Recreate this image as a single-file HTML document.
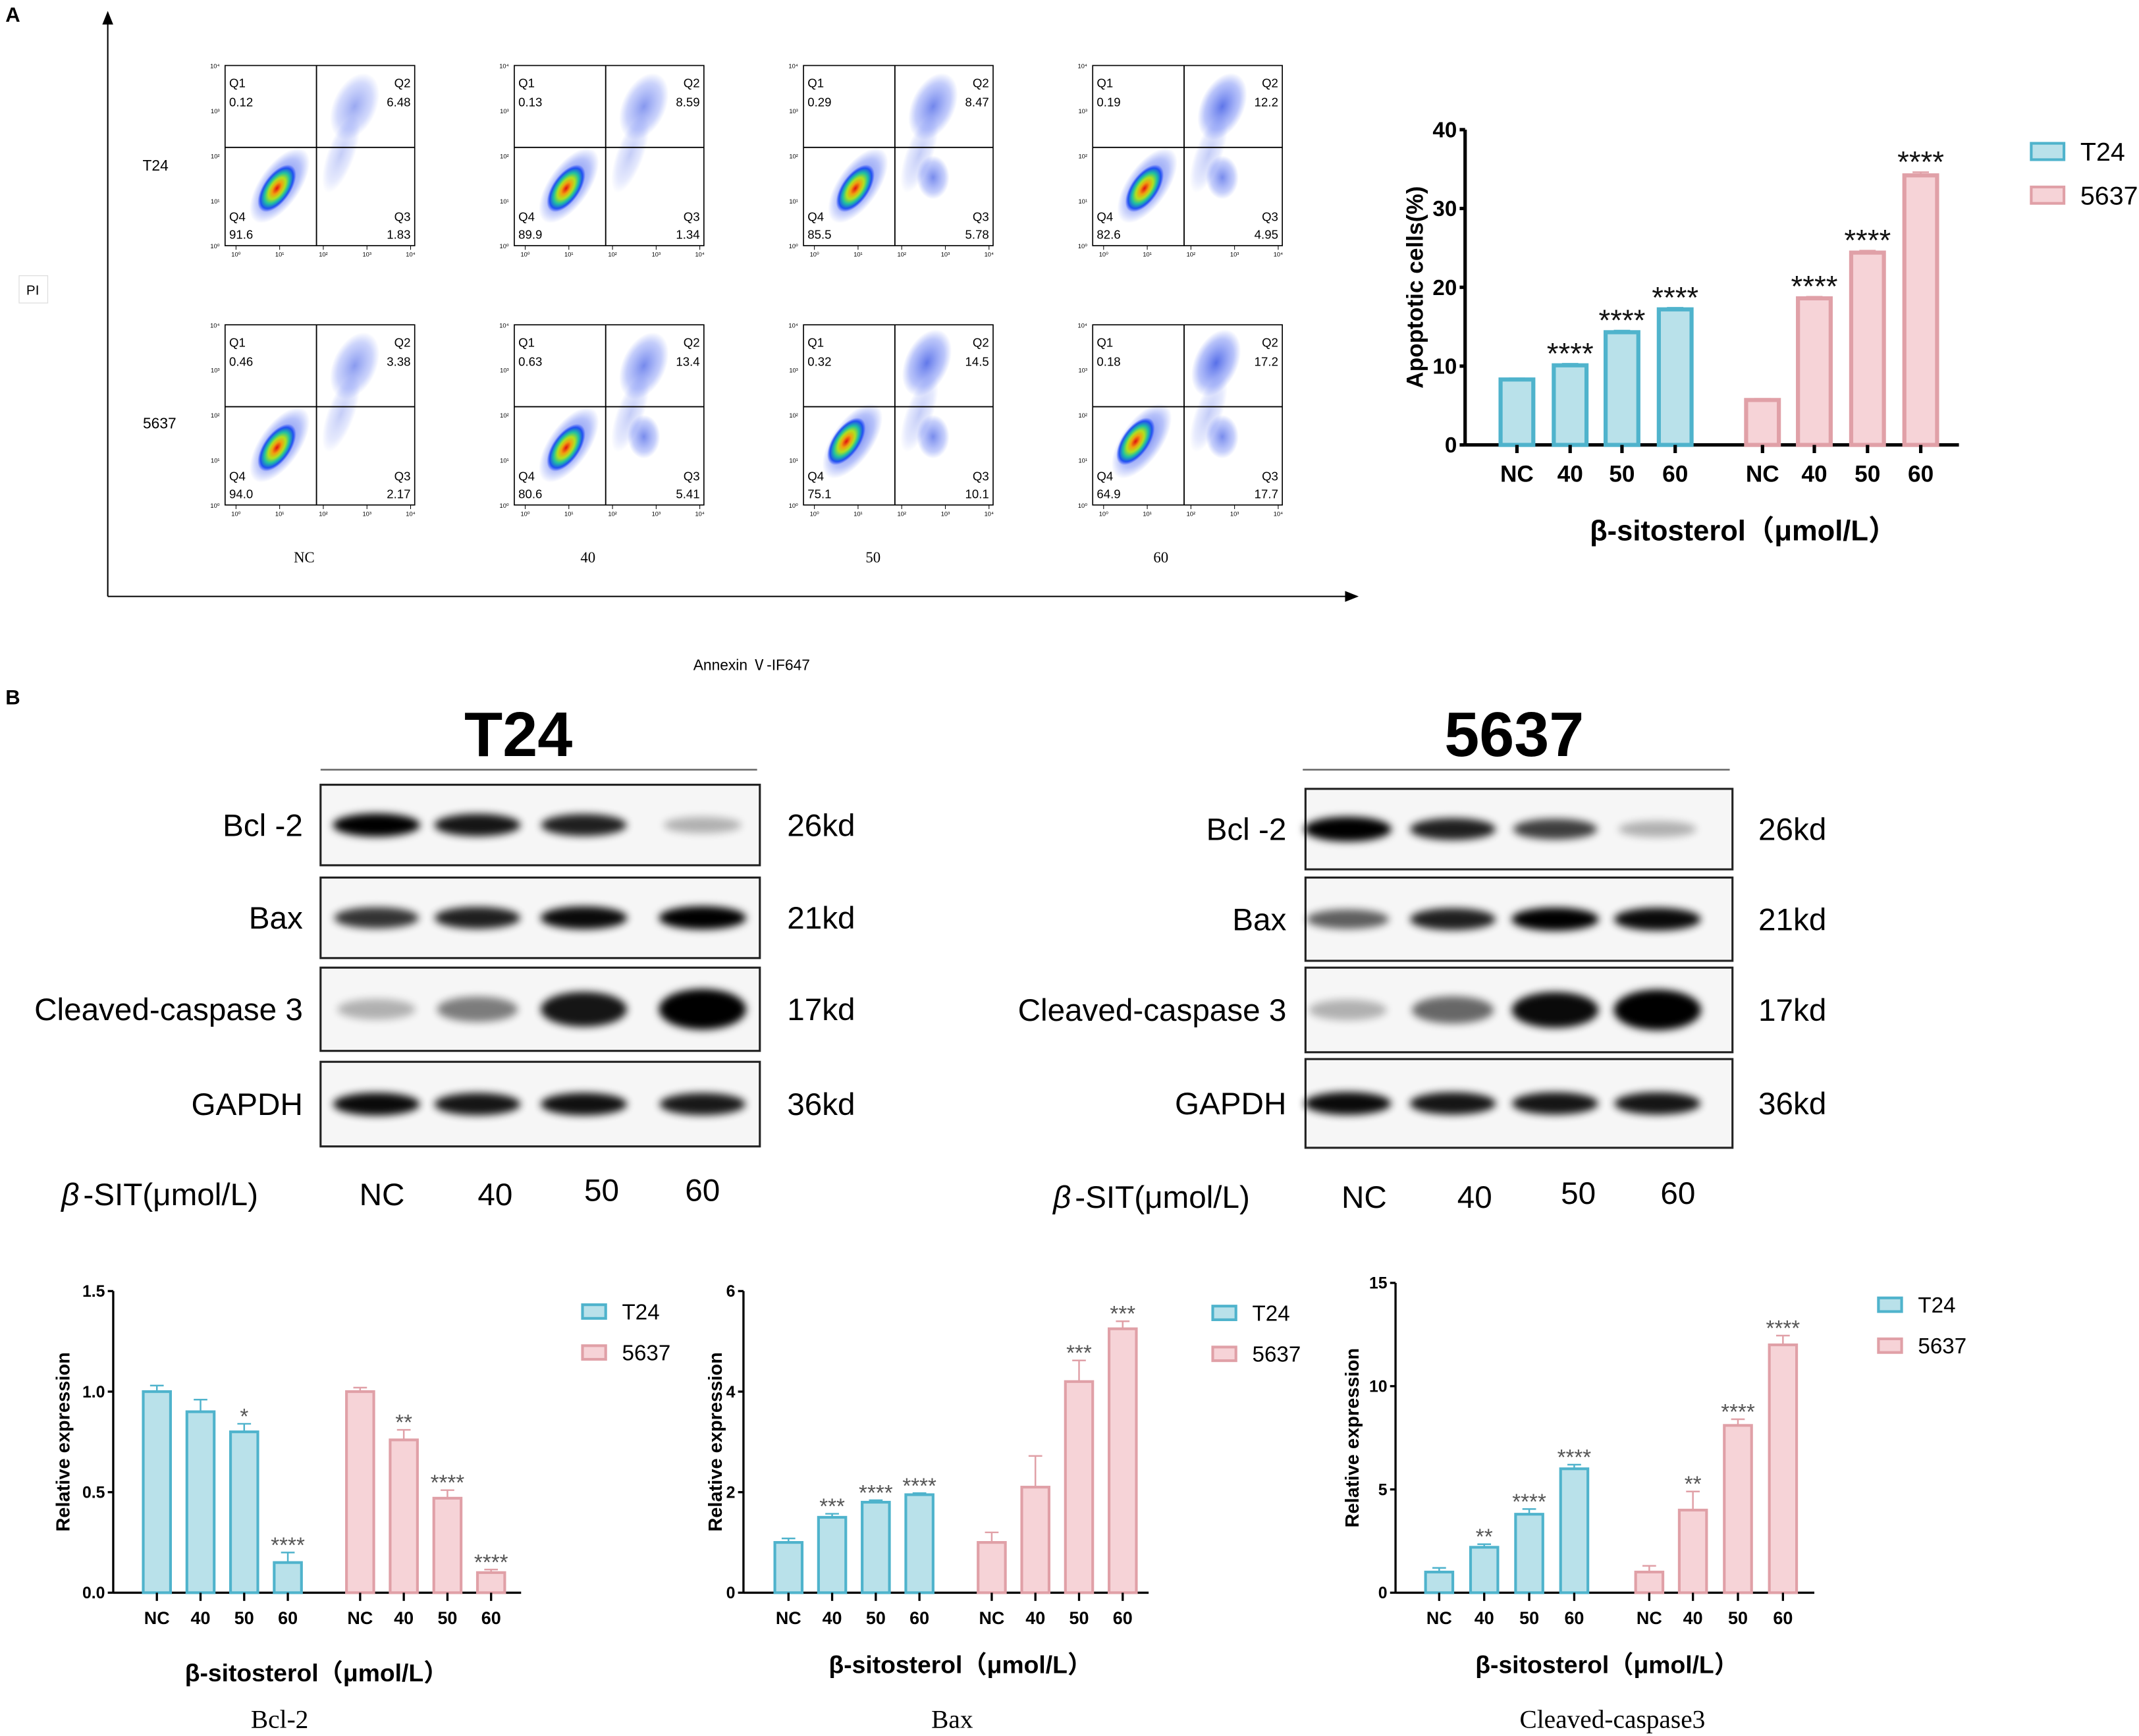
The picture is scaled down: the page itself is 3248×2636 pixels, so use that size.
<!DOCTYPE html>
<html><head><meta charset="utf-8"><style>
html,body{margin:0;padding:0;background:#fff;}
svg{display:block;}
text{font-family:"Liberation Sans","Noto Sans CJK SC",sans-serif;}
.n{font-family:"Liberation Sans Narrow","Liberation Sans","Noto Sans CJK SC",sans-serif;}
.s{font-family:"Liberation Serif","Noto Serif CJK SC",serif;}
</style></head><body>
<svg id="fig" width="3248" height="2636" viewBox="0 0 1568 1272" preserveAspectRatio="none" xmlns="http://www.w3.org/2000/svg">
<defs>
<radialGradient id="heat" cx="50%" cy="50%" r="50%">
<stop offset="0" stop-color="#e01010"/><stop offset="0.25" stop-color="#f0a010"/><stop offset="0.45" stop-color="#b0e020"/><stop offset="0.65" stop-color="#20c0a0"/><stop offset="0.85" stop-color="#2050f0"/><stop offset="1" stop-color="#2040ff" stop-opacity="0"/>
</radialGradient>
<radialGradient id="blue" cx="50%" cy="50%" r="50%">
<stop offset="0" stop-color="#2040e0" stop-opacity="0.75"/><stop offset="0.7" stop-color="#3050f0" stop-opacity="0.35"/><stop offset="1" stop-color="#3050f0" stop-opacity="0"/>
</radialGradient>
<filter id="blur" x="-50%" y="-100%" width="200%" height="300%"><feGaussianBlur stdDeviation="3"/></filter>
</defs>
<text x="4" y="16" font-size="15" font-weight="bold">A</text>
<text x="4" y="516" font-size="15" font-weight="bold">B</text>
<g>
<line x1="79" y1="14" x2="79" y2="437" stroke="#000" stroke-width="1"/>
<polygon points="79,8 75,18 83,18" fill="#000"/>
<line x1="79" y1="437" x2="988" y2="437" stroke="#000" stroke-width="1"/>
<polygon points="996,437 986,433 986,441" fill="#000"/>
<rect x="14" y="202" width="21" height="20" fill="none" stroke="#ddd" stroke-width="0.6"/>
<text x="24" y="216" font-size="10" text-anchor="middle">PI</text>
<text x="551" y="491" font-size="11" text-anchor="middle">Annexin Ⅴ-IF647</text>
<text x="114" y="125" font-size="11" text-anchor="middle">T24</text>
<text x="117" y="314" font-size="11" text-anchor="middle">5637</text>
</g>
<g id="flow"></g>
<g id="topchart"></g>
<g id="blots"></g>
<g id="bottom"></g>
</svg>
<script>
// ---- data ----
const doseCats = ["NC","40","50","60"];
const apopT24 = [8.3,10.1,14.3,17.2];
const apopErrT24 = [0.15,0.2,0.2,0.2];
const apop5637 = [5.7,18.6,24.4,34.2];
const apopErr5637 = [0.15,0.2,0.25,0.4];
const apopTicks = [0,10,20,30,40];
const apopSig = ["","****","****","****","","****","****","****"];

const flowQ1T24 = ["0.12","0.13","0.29","0.19"];
const flowQ2T24 = ["6.48","8.59","8.47","12.2"];
const flowQ3T24 = ["1.83","1.34","5.78","4.95"];
const flowQ4T24 = ["91.6","89.9","85.5","82.6"];
const flowQ15637 = ["0.46","0.63","0.32","0.18"];
const flowQ25637 = ["3.38","13.4","14.5","17.2"];
const flowQ35637 = ["2.17","5.41","10.1","17.7"];
const flowQ45637 = ["94.0","80.6","75.1","64.9"];

const bclT24 = [1.0,0.9,0.8,0.15];
const bclErrT24 = [0.03,0.06,0.04,0.05];
const bcl5637 = [1.0,0.76,0.47,0.1];
const bclErr5637 = [0.02,0.05,0.04,0.015];
const bclSig = ["","","*","****","","**","****","****"];
const bclTicks = ["0.0","0.5","1.0","1.5"];

const baxT24 = [1.0,1.5,1.8,1.95];
const baxErrT24 = [0.08,0.07,0.04,0.03];
const bax5637 = [1.0,2.1,4.2,5.25];
const baxErr5637 = [0.2,0.62,0.42,0.15];
const baxSig = ["","***","****","****","","","***","***"];
const baxTicks = ["0","2","4","6"];

const casT24 = [1.0,2.2,3.8,6.0];
const casErrT24 = [0.2,0.15,0.25,0.2];
const cas5637 = [1.0,4.0,8.1,12.0];
const casErr5637 = [0.3,0.9,0.3,0.45];
const casSig = ["","**","****","****","","**","****","****"];
const casTicks = ["0","5","10","15"];

// band intensities (0-1) per lane
const blotT24 = {"Bcl -2":[1,0.9,0.85,0.15],"Bax":[0.75,0.85,0.95,1],"Cleaved-caspase 3":[0.15,0.4,0.9,1.2],"GAPDH":[0.95,0.9,0.92,0.88]};
const blot5637 = {"Bcl -2":[1.2,0.85,0.7,0.15],"Bax":[0.55,0.85,1,0.95],"Cleaved-caspase 3":[0.15,0.5,0.95,1.2],"GAPDH":[0.95,0.9,0.9,0.9]};
const kd = ["26kd","21kd","17kd","36kd"];

const NS="http://www.w3.org/2000/svg";
function mk(tag,attrs,parent,txt){const e=document.createElementNS(NS,tag);for(const k in attrs)e.setAttribute(k,attrs[k]);if(txt!==undefined)e.textContent=txt;parent.appendChild(e);return e;}
const T24F="#b9e1ea",T24S="#4fb3cc",P_F="#f6d3d7",P_S="#e0a0a7";

// ---- flow plots ----
const flow=document.getElementById('flow');
const colX=[165,377,589,801], rowY=[48,238];
const colLab=[223,431,640,851];
const flowData=[[flowQ1T24,flowQ2T24,flowQ3T24,flowQ4T24],[flowQ15637,flowQ25637,flowQ35637,flowQ45637]];
for(let r=0;r<2;r++)for(let c=0;c<4;c++){
  const x0=colX[c],y0=rowY[r];
  const g=mk('g',{},flow);
  
  
  mk('rect',{x:x0,y:y0,width:139,height:132,fill:'#fff',stroke:'#000','stroke-width':0.8},g);
  const q2a=0.6+0.12*c+(r?0.1:0);
  mk('ellipse',{cx:x0+95-(r&&c>1?5:0),cy:y0+30,rx:16,ry:26,fill:'url(#blue)',opacity:q2a,transform:`rotate(25 ${x0+95} ${y0+30})`},g);
  mk('ellipse',{cx:x0+85,cy:y0+65,rx:10,ry:30,fill:'url(#blue)',opacity:0.35,transform:`rotate(20 ${x0+85} ${y0+65})`},g);
  if(c>=2||r==1&&c>=1) mk('ellipse',{cx:x0+95,cy:y0+82,rx:12,ry:16,fill:'url(#blue)',opacity:0.8},g);
  mk('ellipse',{cx:x0+40+(r&&c>1?-5:0),cy:y0+88,rx:15,ry:32,fill:'url(#blue)',transform:`rotate(35 ${x0+40} ${y0+88})`},g);
  mk('ellipse',{cx:x0+38+(r&&c>1?-8:0),cy:y0+90,rx:10,ry:20,fill:'url(#heat)',transform:`rotate(35 ${x0+38} ${y0+90})`},g);
  mk('line',{x1:x0+67,y1:y0,x2:x0+67,y2:y0+132,stroke:'#000','stroke-width':0.9},g);
  mk('line',{x1:x0,y1:y0+60,x2:x0+139,y2:y0+60,stroke:'#000','stroke-width':0.9},g);
  const d=flowData[r];
  const fs=9;
  mk('text',{x:x0+3,y:y0+16,'font-size':fs},g,'Q1');
  mk('text',{x:x0+3,y:y0+30,'font-size':fs},g,d[0][c]);
  mk('text',{x:x0+136,y:y0+16,'font-size':fs,'text-anchor':'end'},g,'Q2');
  mk('text',{x:x0+136,y:y0+30,'font-size':fs,'text-anchor':'end'},g,d[1][c]);
  mk('text',{x:x0+136,y:y0+114,'font-size':fs,'text-anchor':'end'},g,'Q3');
  mk('text',{x:x0+136,y:y0+127,'font-size':fs,'text-anchor':'end'},g,d[2][c]);
  mk('text',{x:x0+3,y:y0+114,'font-size':fs},g,'Q4');
  mk('text',{x:x0+3,y:y0+127,'font-size':fs},g,d[3][c]);
  for(let i=0;i<5;i++){
    mk('text',{x:x0-4,y:y0+132-i*33+2,'font-size':4.5,'text-anchor':'end'},g,'10'+['⁰','¹','²','³','⁴'][i]);
    mk('text',{x:x0+8+i*32,y:y0+140,'font-size':4.5,'text-anchor':'middle'},g,'10'+['⁰','¹','²','³','⁴'][i]);
    mk('line',{x1:x0+8+i*32,y1:y0+132,x2:x0+8+i*32,y2:y0+135,stroke:'#000','stroke-width':0.5},g);
  }
  if(r==1){const t=mk('text',{x:colLab[c],y:412,'font-size':11,'text-anchor':'middle',class:'s'},flow,doseCats[c]);
    }
}

// ---- generic bar chart ----
function barChart(parent,o){
  const g=mk('g',{},parent);
  
  
  const y=v=>o.y0-(v-o.min)/(o.max-o.min)*(o.y0-o.y1);
  mk('line',{x1:o.ax,y1:o.y1,x2:o.ax,y2:o.y0,stroke:'#000','stroke-width':o.aw},g);
  mk('line',{x1:o.ax,y1:o.y0,x2:o.axEnd,y2:o.y0,stroke:'#000','stroke-width':o.aw},g);
  o.ticks.forEach(t=>{const v=parseFloat(t);
    mk('line',{x1:o.ax-4,y1:y(v),x2:o.ax,y2:y(v),stroke:'#000','stroke-width':o.aw},g);
    const tl=mk('text',{x:o.ax-6,y:y(v)+o.tfs*0.35,'font-size':o.tfs,'text-anchor':'end','font-weight':'bold',class:'n'},g,t);
    });
  const series=[[o.a,o.ea,T24F,T24S],[o.b,o.eb,P_F,P_S]];
  series.forEach((s,si)=>{s[0].forEach((v,i)=>{
    const cx=o.xs[si*4+i];
    const r=mk('rect',{x:cx-o.bw/2,y:y(v),width:o.bw,height:o.y0-y(v),fill:s[2],stroke:s[3],'stroke-width':o.sw},g);
    
    
    const e=s[1][i];
    mk('line',{x1:cx,y1:y(v),x2:cx,y2:y(v+e),stroke:s[3],'stroke-width':1.2},g);
    mk('line',{x1:cx-o.bw*0.25,y1:y(v+e),x2:cx+o.bw*0.25,y2:y(v+e),stroke:s[3],'stroke-width':1.2},g);
    mk('line',{x1:cx,y1:o.y0,x2:cx,y2:o.y0+6,stroke:'#000','stroke-width':o.aw},g);
    const lab=mk('text',{x:cx,y:o.y0+o.lfs+10,'font-size':o.lfs,'text-anchor':'middle','font-weight':'bold',class:'n'},g,doseCats[i]);
    
    const sg=o.sig[si*4+i];
    if(sg){const st=mk('text',{x:cx,y:y(v+e)-o.sgap+o.sfs*0.5,'font-size':o.sfs,'text-anchor':'middle',fill:o.sc},g,sg);
      }
  });});
  const yt=mk('text',{x:o.ylx,y:(o.y0+o.y1)/2,'font-size':o.yfs,'text-anchor':'middle','font-weight':'bold',transform:`rotate(-90 ${o.ylx} ${(o.y0+o.y1)/2})`},g,o.ylabel);
  
  const xt=mk('text',{x:o.xlx,y:o.xly,'font-size':o.xfs,'text-anchor':'middle','font-weight':'bold',class:'n'},g,'β-sitosterol（μmol/L）');
  
  [['T24',T24F,T24S],['5637',P_F,P_S]].forEach((l,i)=>{
    const lg=mk('g',{},g);
    
    
    mk('rect',{x:o.lgx,y:o.lgy+i*o.lgd-o.lgh/2,width:o.lgw,height:o.lgh,fill:l[1],stroke:l[2],'stroke-width':2},lg);
    mk('text',{x:o.lgx+o.lgw+12,y:o.lgy+i*o.lgd+o.lfs2*0.36,'font-size':o.lfs2,class:'n'},lg,l[0]);
  });
  if(o.title){const tt=mk('text',{x:o.tx,y:o.ty,'font-size':19,'text-anchor':'middle',class:'s'},g,o.title);
    }
}
barChart(document.getElementById('topchart'),{name:'apoptosis-chart',ax:1074,axEnd:1436,y0:326,y1:95,min:0,max:40,ticks:apopTicks.map(String),
  xs:[1112,1151,1189,1228,1292,1330,1369,1408],bw:24,sw:3,aw:2.5,a:apopT24,ea:apopErrT24,b:apop5637,eb:apopErr5637,sig:apopSig,sc:'#111',sgap:11,
  tfs:16,lfs:17,sfs:22,ylx:1043,yfs:17,ylabel:'Apoptotic cells(%)',xlx:1278,xly:396,xfs:21,lgx:1489,lgy:111,lgd:32,lgw:24,lgh:12,lfs2:19});
barChart(document.getElementById('bottom'),{name:'bcl2-chart',ax:83,axEnd:382,y0:1167,y1:946,min:0,max:1.5,ticks:bclTicks,
  xs:[115,147,179,211,264,296,328,360],bw:20,sw:2,aw:1.6,a:bclT24,ea:bclErrT24,b:bcl5637,eb:bclErr5637,sig:bclSig,sc:'#555',sgap:8,
  tfs:12,lfs:13,sfs:16,ylx:51,yfs:14,ylabel:'Relative expression',xlx:232,xly:1232,xfs:18,lgx:427,lgy:961,lgd:30,lgw:17,lgh:10,lfs2:16,title:'Bcl-2',tx:205,ty:1266});
barChart(document.getElementById('bottom'),{name:'bax-chart',ax:545,axEnd:842,y0:1167,y1:946,min:0,max:6,ticks:baxTicks,
  xs:[578,610,642,674,727,759,791,823],bw:20,sw:2,aw:1.6,a:baxT24,ea:baxErrT24,b:bax5637,eb:baxErr5637,sig:baxSig,sc:'#555',sgap:8,
  tfs:12,lfs:13,sfs:16,ylx:529,yfs:14,ylabel:'Relative expression',xlx:704,xly:1226,xfs:18,lgx:889,lgy:962,lgd:30,lgw:17,lgh:10,lfs2:16,title:'Bax',tx:698,ty:1266});
barChart(document.getElementById('bottom'),{name:'caspase3-chart',ax:1023,axEnd:1330,y0:1167,y1:940,min:0,max:15,ticks:casTicks,
  xs:[1055,1088,1121,1154,1209,1241,1274,1307],bw:20,sw:2,aw:1.6,a:casT24,ea:casErrT24,b:cas5637,eb:casErr5637,sig:casSig,sc:'#555',sgap:8,
  tfs:12,lfs:13,sfs:16,ylx:996,yfs:14,ylabel:'Relative expression',xlx:1178,xly:1226,xfs:18,lgx:1377,lgy:956,lgd:30,lgw:17,lgh:10,lfs2:16,title:'Cleaved-caspase3',tx:1182,ty:1266});

// ---- western blots ----
const blots=document.getElementById('blots');
function blotPanel(o){
  const g=mk('g',{},blots);
  
  
  mk('text',{x:o.tx,y:554,'font-size':46,'text-anchor':'middle','font-weight':'bold',class:'n'},g,o.title);
  mk('line',{x1:o.lx1,y1:564,x2:o.lx2,y2:564,stroke:'#666','stroke-width':1.2},g);
  const names=Object.keys(o.data);
  names.forEach((nm,ri)=>{
    const [by0,by1]=o.rows[ri];
    const row=mk('g',{},g);
    
    
    mk('rect',{x:o.bx0,y:by0,width:o.bx1-o.bx0,height:by1-by0,fill:'#f6f6f6',stroke:'#222','stroke-width':1.5},row);
    const cy=(by0+by1)/2;
    o.data[nm].forEach((v,i)=>{
      const cx=o.lanes[i];
      const h=nm.startsWith('Cleaved')?9+v*14:7+v*6;
      mk('ellipse',{cx:cx,cy:cy,rx:28+Math.min(v,1)*4,ry:h/2+2,fill:'#000',opacity:Math.min(1,0.15+v*0.85),filter:'url(#blur)'},row);
    });
    mk('text',{x:o.labX,y:cy+8,'font-size':23,'text-anchor':'end',class:'n'},row,nm);
    mk('text',{x:o.kdX,y:cy+8,'font-size':23,class:'n'},row,kd[ri]);
  });
  mk('text',{x:o.sitX,y:o.sy+8,'font-size':23,'font-style':'italic',class:'n'},g,'β');
  mk('text',{x:o.sitX+16,y:o.sy+8,'font-size':23,class:'n'},g,'-SIT(μmol/L)');
  doseCats.forEach((d,i)=>mk('text',{x:o.doseX[i],y:o.sy+8+(i==2||i==3?-3:0),'font-size':23,'text-anchor':'middle',class:'n'},g,d));
}
blotPanel({title:'T24',tx:380,lx1:235,lx2:555,bx0:235,bx1:557,rows:[[575,634],[643,702],[709,770],[778,840]],lanes:[276,350,428,515],
  data:blotT24,labX:222,kdX:577,sitX:45,sy:875,doseX:[280,363,441,515]});
blotPanel({title:'5637',tx:1110,lx1:955,lx2:1268,bx0:957,bx1:1270,rows:[[578,637],[643,704],[709,771],[776,841]],lanes:[988,1065,1140,1215],
  data:blot5637,labX:943,kdX:1289,sitX:772,sy:877,doseX:[1000,1081,1157,1230]});
</script>
</body></html>
